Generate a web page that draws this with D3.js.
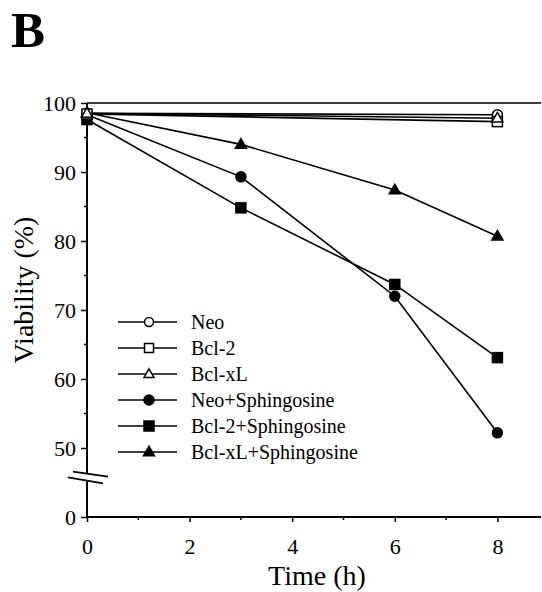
<!DOCTYPE html>
<html><head><meta charset="utf-8">
<script src="https://cdn.jsdelivr.net/npm/d3@7"></script>
<style>body{margin:0;background:#fff}svg{display:block}text{font-family:"Liberation Serif","Times New Roman",serif;fill:#000}</style>
</head><body><svg id="c" width="542" height="592"></svg>
<script>
const seriesNames = ["Neo","Bcl-2","Bcl-xL","Neo+Sphingosine","Bcl-2+Sphingosine","Bcl-xL+Sphingosine"];
const seriesSymbols = ["circle","square","triangle","circle","square","triangle"];
const seriesFilled = [false,false,false,true,true,true];
const timesOpen = [0,8];
const timesTreated = [0,3,6,8];
const neo = [98.5,98.3];
const bcl2 = [98.4,97.3];
const bclxl = [98.5,97.8];
const neoSph = [98.3,89.3,72.0,52.2];
const bcl2Sph = [97.6,84.8,73.7,63.1];
const bclxlSph = [98.6,94.0,87.4,80.7];
const xTicks = [0,2,4,6,8];
const yTicks = [0,50,60,70,80,90,100];

const seriesX = [timesOpen,timesOpen,timesOpen,timesTreated,timesTreated,timesTreated];
const seriesY = [neo,bcl2,bclxl,neoSph,bcl2Sph,bclxlSph];

const svg = d3.select("#c");
const x = d3.scaleLinear().domain([0,8.85]).range([87,541]);
const y = d3.scaleLinear().domain([0,50,100]).range([517,448,103]);

// panel letter
svg.append("text").attr("x",11).attr("y",47).attr("font-size",51).attr("font-weight","bold").text("B");

const g = svg.append("g");
// x axis
const xAxis = d3.axisBottom(x).tickValues(xTicks).tickSize(5).tickPadding(16).tickFormat(d3.format("d"));
const gx = g.append("g").attr("transform",`translate(0,${y(0)})`).call(xAxis);
gx.select(".domain").attr("stroke-width",2).attr("d",`M${x(0)},0H${x(8.85)}`);
gx.selectAll(".tick line").attr("stroke-width",1.5);
gx.selectAll("text").attr("font-size",22);
// minor x ticks
g.append("g").attr("transform",`translate(0,${y(0)})`).selectAll("line").data([1,3,5,7]).join("line")
 .attr("x1",d=>x(d)).attr("x2",d=>x(d)).attr("y1",0).attr("y2",3).attr("stroke","#000").attr("stroke-width",1.5);

// y axis
const yAxis = d3.axisLeft(y).tickValues(yTicks).tickSize(6).tickPadding(5).tickFormat(d3.format("d"));
const gy = g.append("g").attr("transform",`translate(${x(0)},0)`).call(yAxis);
gy.select(".domain").attr("stroke-width",2).attr("d",`M0,${y(100)}V${y(0)}`);
gy.selectAll(".tick line").attr("stroke-width",1.5);
gy.selectAll("text").attr("font-size",22);
g.append("g").attr("transform",`translate(${x(0)},0)`).selectAll("line").data([55,65,75,85,95]).join("line")
 .attr("y1",d=>y(d)).attr("y2",d=>y(d)).attr("x1",0).attr("x2",-3).attr("stroke","#000").attr("stroke-width",1.5);

// top reference line at 100
g.append("line").attr("x1",x(0)).attr("x2",x(8.85)).attr("y1",y(100)).attr("y2",y(100)).attr("stroke","#000").attr("stroke-width",1.5);

// axis break
const bTop = y(31.5), bBot = y(26.5);
g.append("rect").attr("x",x(0)-3).attr("y",bTop).attr("width",6).attr("height",bBot-bTop).attr("fill","#fff");
g.append("line").attr("x1",x(0)-14).attr("y1",bTop-2).attr("x2",x(0)+21).attr("y2",bTop+3).attr("stroke","#000").attr("stroke-width",1.8);
g.append("line").attr("x1",x(0)-19).attr("y1",bBot-3).attr("x2",x(0)+16).attr("y2",bBot+3).attr("stroke","#000").attr("stroke-width",1.8);

// titles
svg.append("text").attr("x",317).attr("y",585).attr("text-anchor","middle").attr("font-size",28).text("Time (h)");
svg.append("text").attr("transform","translate(33,290) rotate(-90)").attr("text-anchor","middle").attr("font-size",28).text("Viability (%)");

function drawSym(sel, type, filled, cx, cy, s){
  let el;
  if(type==="circle") el = sel.append("circle").attr("cx",cx).attr("cy",cy).attr("r",s*0.5);
  else if(type==="square") el = sel.append("rect").attr("x",cx-s*0.5).attr("y",cy-s*0.5).attr("width",s).attr("height",s);
  else { const h=s*0.95; el = sel.append("path").attr("d",`M${cx},${cy-h*0.6}L${cx+s*0.55},${cy+h*0.4}L${cx-s*0.55},${cy+h*0.4}Z`); }
  el.attr("fill",filled?"#000":"#fff").attr("stroke","#000").attr("stroke-width",1.5);
}

const line = d3.line().x(d=>x(d[0])).y(d=>y(d[1]));
seriesNames.forEach((n,i)=>{
  const pts = seriesX[i].map((t,j)=>[t,seriesY[i][j]]);
  g.append("path").attr("d",line(pts)).attr("fill","none").attr("stroke","#000").attr("stroke-width",1.6);
});
[3,4,5,0,1,2].forEach(i=>{
  seriesX[i].forEach((t,j)=>drawSym(g,seriesSymbols[i],seriesFilled[i],x(t),y(seriesY[i][j]),10));
});

// legend
const lg = svg.append("g");
const legendY = d3.scalePoint().domain(seriesNames).range([322,452]);
seriesNames.forEach((n,i)=>{
  const yy = legendY(n);
  lg.append("line").attr("x1",118).attr("x2",177).attr("y1",yy).attr("y2",yy).attr("stroke","#000").attr("stroke-width",1.6);
  drawSym(lg,seriesSymbols[i],seriesFilled[i],149,yy,i<3?9:10);
  lg.append("text").attr("x",191).attr("y",yy+7).attr("font-size",20).text(n);
});
</script></body></html>
